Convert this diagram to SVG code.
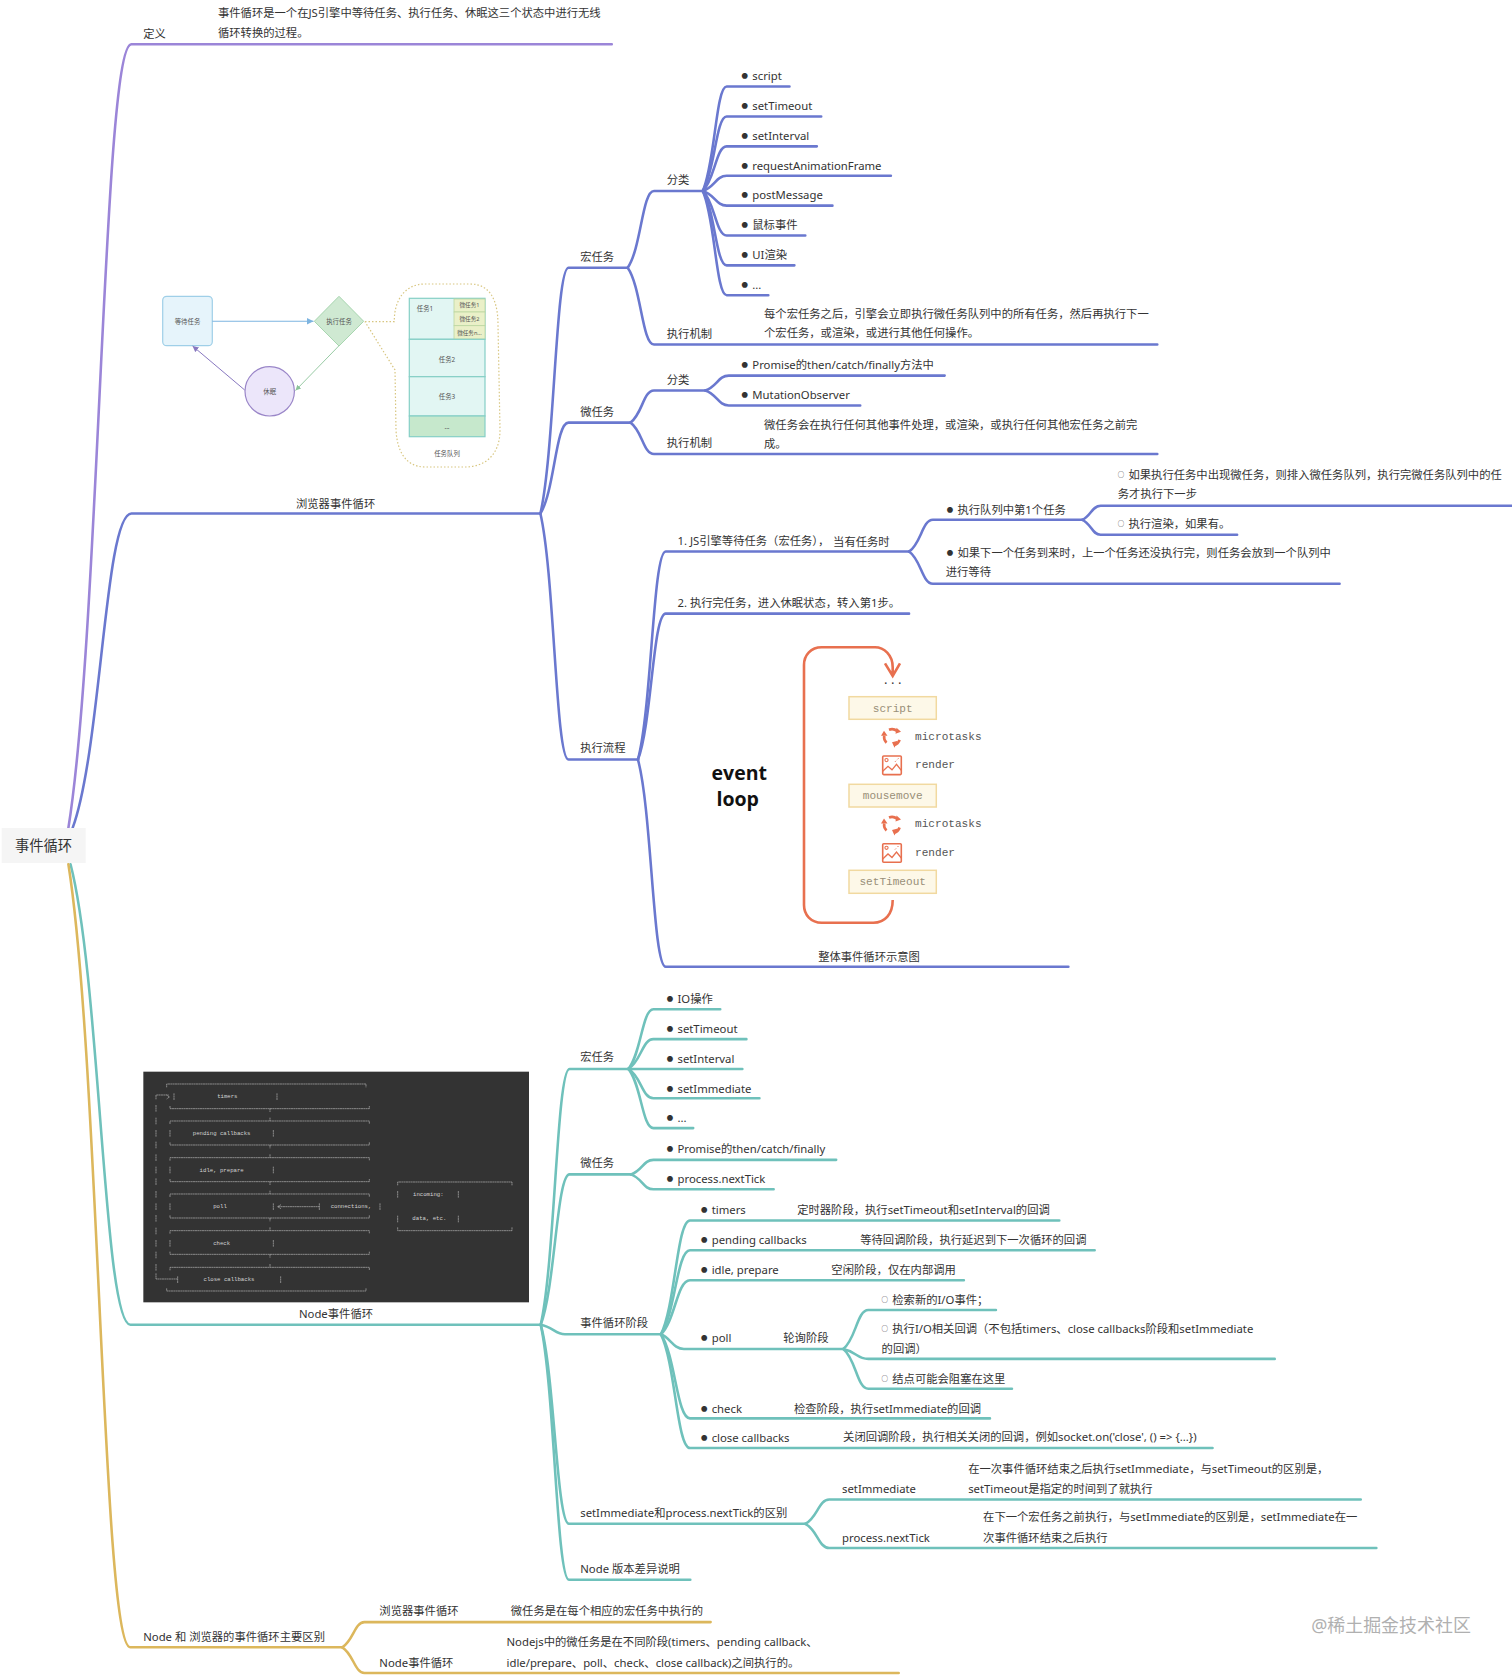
<svg xmlns="http://www.w3.org/2000/svg" width="1512" height="1675" viewBox="0 0 1512 1675">
<style>
text{font-family:"Noto Sans","Noto Sans CJK SC",sans-serif;fill:#333;dominant-baseline:central}
.t{font-size:10.6px}
.b{font-size:6px;font-family:"Noto Sans CJK SC",sans-serif}
.c{text-anchor:middle}
.con path{fill:none;stroke-width:2.4;stroke-linecap:round}
.pu path{stroke:#9b85d8}.bl path{stroke:#6a78cf}.te path{stroke:#6fc1bb}.go path{stroke:#dcb75c}
.s{font-size:6.4px;fill:#555;text-anchor:middle}
.cell{fill:#e2f6f3;stroke:#86cfc6;stroke-width:1.2}
.mic{fill:#eaf0c8;stroke:#bcd6a0;stroke-width:.8}
.mono{font-family:"Liberation Mono",monospace;font-size:11.1px}
.box{fill:#fdf8e8;stroke:#f1d9a0;stroke-width:1.5}
.bx{font-family:"Liberation Mono",monospace;font-size:11.1px;fill:#998f78;text-anchor:middle}
.lb{font-family:"Liberation Mono",monospace;font-size:11.1px;fill:#555}
.ev{font-family:"Open Sans",sans-serif;font-weight:700;font-size:19.5px;fill:#111;text-anchor:middle}
.asc{font-family:"Liberation Mono",monospace;font-size:17px;fill:#d4d4d4;text-anchor:middle}
.al path{fill:none;stroke:#c4c4c4;stroke-width:1.8;stroke-dasharray:6 1}
</style>
<defs>
<marker id="ab" markerWidth="7" markerHeight="7" refX="6" refY="3" orient="auto"><path d="M0,0L6,3L0,6Z" fill="#7db4e0"/></marker>
<marker id="ag" markerWidth="7" markerHeight="7" refX="6" refY="3" orient="auto"><path d="M0,0L6,3L0,6Z" fill="#8cc49a"/></marker>
<marker id="ap" markerWidth="7" markerHeight="7" refX="6" refY="3" orient="auto"><path d="M0,0L6,3L0,6Z" fill="#8878c0"/></marker>
<g id="cyc">
<path d="M-3,-7.5A8,8 0 0 1 5,-6.2M7.6,2.5A8,8 0 0 1 2,7.8M-5.5,5.5A8,8 0 0 1 -7.8,-1.5" fill="none" stroke="#e8704f" stroke-width="2.6"/>
<path d="M4.5,-9.5L9,-5.5L3.5,-3.5ZM5.8,3.5L0,5L2.5,10.5ZM-11,-1.5L-4.5,-1.5L-8,-6.5Z" fill="#e8704f"/>
</g>
<g id="pic" fill="none" stroke="#e8704f">
<rect x=".7" y=".7" width="18.6" height="18.6" rx="1" stroke-width="1.6"/>
<circle cx="4.5" cy="4.8" r="1.6" stroke-width="1.1"/>
<path d="M.7,16L6,11L10,14.5L14.5,9L19.3,15" stroke-width="1.3"/>
<path d="M13,6.5l1,-1M15.5,4l1,-1" stroke-width="1"/>
</g>
</defs>
<rect width="1512" height="1675" fill="#fff"/>

<g id="connectors" class="con" transform="scale(1.0686,1.0683)">
<g class="pu"><path d="M64,775C93.5,591 96.5,41.4 123,41.4H572.5"/></g>
<g class="bl">
<path d="M68,775C95,701 98,480.7 123,480.7H505.7"/>
<path d="M505.7,480.7C519,423 520,250.6 532,250.6H587.4"/>
<path d="M505.7,480.7C519,459.5 520,395.6 532,395.6H590"/>
<path d="M505.7,480.7C519,538 520,711 532,711H597"/>
<path d="M587.4,250.6C600,232.6 601,178.8 612,178.8H657.6"/>
<path d="M587.4,250.6C600,268.6 601,322.5 612,322.5H1083"/>
<path d="M657.6,178.8C669,154 670,81 680,81H738.8"/>
<path d="M657.6,178.8C669,161 670,109 680,109H768.5"/>
<path d="M657.6,178.8C669,168 670,137 680,137H764.4"/>
<path d="M657.6,178.8C669,175 670,164.6 680,164.6H833.7"/>
<path d="M657.6,178.8C669,182 670,192.5 680,192.5H779"/>
<path d="M657.6,178.8C669,189 670,220.4 680,220.4H753.6"/>
<path d="M657.6,178.8C669,196 670,248.4 680,248.4H743.4"/>
<path d="M657.6,178.8C669,203 670,276.3 680,276.3H719"/>
<path d="M590,395.6C601,388 602,365.5 612,365.5H660"/>
<path d="M590,395.6C601,403 602,425 612,425H1083"/>
<path d="M660,365.5C671,362 672,351.6 682,351.6H884"/>
<path d="M660,365.5C671,369 672,379.5 682,379.5H805"/>
<path d="M597,711C610,662 611,516.3 623,516.3H850.7"/>
<path d="M597,711C610,677 611,574.4 623,574.4H850.7"/>
<path d="M597,711C610,759 611,905 623,905H999.8"/>
<path d="M850.7,516.3C862,509 863,486.6 873,486.6H1012.8"/>
<path d="M850.7,516.3C862,524 863,546.5 873,546.5H1253.6"/>
<path d="M1012.8,486.6C1021,483 1022,473.4 1030,473.4H1415"/>
<path d="M1012.8,486.6C1021,490 1022,500.6 1030,500.6H1157.7"/>
</g>
<g class="te">
<path d="M66,809C94,917 97,1240 122,1240H506"/>
<path d="M506,1240C519.5,1180 521,1000.6 533,1000.6H588"/>
<path d="M506,1240C519.5,1205 521,1099.3 533,1099.3H590.5"/>
<path d="M506,1240C517,1242 520,1249 528.6,1249H618.5"/>
<path d="M506,1240C519,1286.6 521,1426.4 532.4,1426.4H753.6"/>
<path d="M506,1240C519,1300 521,1478.8 532.4,1478.8H646"/>
<path d="M588,1000.6C600,986.6 601,944.7 611.5,944.7H674"/>
<path d="M588,1000.6C600,993.6 601,972.7 611.5,972.7H698.5"/>
<path d="M588,1000.6H694.7"/>
<path d="M588,1000.6C600,1007.5 601,1028 611.5,1028H710.7"/>
<path d="M588,1000.6C600,1014.5 601,1056 611.5,1056H648.7"/>
<path d="M590.5,1099.3C601,1096 602,1085.7 611.5,1085.7H782.5"/>
<path d="M590.5,1099.3C601,1103 602,1113.3 611.5,1113.3H724"/>
<path d="M618.5,1249C632,1222 633.5,1142.4 645.7,1142.4H991.3"/>
<path d="M618.5,1249C632,1229 633.5,1170.4 645.7,1170.4H1024.4"/>
<path d="M618.5,1249C632,1236 633.5,1198.4 645.7,1198.4H902"/>
<path d="M618.5,1249C627,1252 630,1262.7 640,1262.7H789.2"/>
<path d="M618.5,1249C632,1269 633.5,1327.7 645.7,1327.7H926.4"/>
<path d="M618.5,1249C632,1276 633.5,1355.5 645.7,1355.5H1134.7"/>
<path d="M789.2,1262.7C801,1253.6 802,1226.3 812.6,1226.3H932"/>
<path d="M789.2,1262.7C801,1265 802,1272 812.6,1272H1192.9"/>
<path d="M789.2,1262.7C801,1272 802,1300 812.6,1300H947"/>
<path d="M753.6,1426.4C765,1420.7 766,1403.7 776,1403.7H1273.4"/>
<path d="M753.6,1426.4C765,1432 766,1449 776,1449H1288"/>
</g>
<g class="go">
<path d="M64,809C93,992 96,1542 122,1542H320.3"/>
<path d="M320.3,1542C330.5,1536 332,1518.4 341,1518.4H665"/>
<path d="M320.3,1542C330.5,1548 332,1566 341,1566H841"/>
</g>
</g>

<g id="root"><rect x="1.7" y="828" width="84" height="35" fill="#f5f5f5"/><text x="43.5" y="845.7" class="c" style="font-size:14.3px">事件循环</text></g>

<g id="mindmap" transform="scale(1.0686,1.0683)">
<g id="def" class="t"><text x="134" y="31">定义</text><text x="204" y="12">事件循环是一个在JS引擎中等待任务、执行任务、休眠这三个状态中进行无线</text><text x="204" y="30">循环转换的过程。</text></g>
<g id="browser" class="t"><text x="277" y="471">浏览器事件循环</text></g>
<g id="macro" class="t"><text x="543" y="240">宏任务</text><text x="624" y="168">分类</text></g>
<g id="macro-items" class="t">
<text x="694" y="70.4"><tspan class="b">●</tspan><tspan x="704">script</tspan></text>
<text x="694" y="98.3"><tspan class="b">●</tspan><tspan x="704">setTimeout</tspan></text>
<text x="694" y="126.3"><tspan class="b">●</tspan><tspan x="704">setInterval</tspan></text>
<text x="694" y="154"><tspan class="b">●</tspan><tspan x="704">requestAnimationFrame</tspan></text>
<text x="694" y="181.8"><tspan class="b">●</tspan><tspan x="704">postMessage</tspan></text>
<text x="694" y="209.7"><tspan class="b">●</tspan><tspan x="704">鼠标事件</tspan></text>
<text x="694" y="237.7"><tspan class="b">●</tspan><tspan x="704">UI渲染</tspan></text>
<text x="694" y="265.5"><tspan class="b">●</tspan><tspan x="704">...</tspan></text>
</g>
<g id="macro-exec" class="t"><text x="624" y="312">执行机制</text><text x="715" y="293">每个宏任务之后，引擎会立即执行微任务队列中的所有任务，然后再执行下一</text><text x="715" y="311">个宏任务，或渲染，或进行其他任何操作。</text></g>
<g id="micro" class="t"><text x="543" y="385">微任务</text><text x="624" y="355">分类</text>
<text x="694" y="341"><tspan class="b">●</tspan><tspan x="704">Promise的then/catch/finally方法中</tspan></text>
<text x="694" y="369"><tspan class="b">●</tspan><tspan x="704">MutationObserver</tspan></text>
</g>
<g id="micro-exec" class="t"><text x="624" y="414">执行机制</text><text x="715" y="397">微任务会在执行任何其他事件处理，或渲染，或执行任何其他宏任务之前完</text><text x="715" y="415">成。</text></g>
<g id="flow" class="t"><text x="543" y="700">执行流程</text></g>
<g id="step1" class="t"><text x="634" y="506">1. JS引擎等待任务（宏任务），<tspan dx="3.5">当有任务时</tspan></text>
<text x="886" y="476"><tspan class="b">●</tspan><tspan x="896">执行队列中第1个任务</tspan></text>
<text x="1046" y="444"><tspan class="b">○</tspan><tspan x="1056">如果执行任务中出现微任务，则排入微任务队列，执行完微任务队列中的任</tspan></text>
<text x="1046" y="462">务才执行下一步</text>
<text x="1046" y="490"><tspan class="b">○</tspan><tspan x="1056">执行渲染，如果有。</tspan></text>
<text x="886" y="517"><tspan class="b">●</tspan><tspan x="896">如果下一个任务到来时，上一个任务还没执行完，则任务会放到一个队列中</tspan></text>
<text x="885" y="535">进行等待</text>
</g>
<g id="step2" class="t"><text x="634" y="564">2. 执行完任务，进入休眠状态，转入第1步。</text></g>

<g id="node-macro" class="t"><text x="543" y="989">宏任务</text>
<text x="624" y="934"><tspan class="b">●</tspan><tspan x="634">IO操作</tspan></text>
<text x="624" y="962"><tspan class="b">●</tspan><tspan x="634">setTimeout</tspan></text>
<text x="624" y="990"><tspan class="b">●</tspan><tspan x="634">setInterval</tspan></text>
<text x="624" y="1018"><tspan class="b">●</tspan><tspan x="634">setImmediate</tspan></text>
<text x="624" y="1046"><tspan class="b">●</tspan><tspan x="634">...</tspan></text>
</g>
<g id="node-micro" class="t"><text x="543" y="1088">微任务</text>
<text x="624" y="1075"><tspan class="b">●</tspan><tspan x="634">Promise的then/catch/finally</tspan></text>
<text x="624" y="1103"><tspan class="b">●</tspan><tspan x="634">process.nextTick</tspan></text>
</g>
<g id="node-phase" class="t"><text x="543" y="1238">事件循环阶段</text>
<text x="656" y="1132"><tspan class="b">●</tspan><tspan x="666">timers</tspan></text><text x="746" y="1132">定时器阶段，执行setTimeout和setInterval的回调</text>
<text x="656" y="1160"><tspan class="b">●</tspan><tspan x="666">pending callbacks</tspan></text><text x="805" y="1160">等待回调阶段，执行延迟到下一次循环的回调</text>
<text x="656" y="1188"><tspan class="b">●</tspan><tspan x="666">idle, prepare</tspan></text><text x="778" y="1188">空闲阶段，仅在内部调用</text>
<text x="656" y="1252"><tspan class="b">●</tspan><tspan x="666">poll</tspan></text><text x="733" y="1252">轮询阶段</text>
<text x="825" y="1216"><tspan class="b">○</tspan><tspan x="835">检索新的I/O事件；</tspan></text>
<text x="825" y="1243"><tspan class="b">○</tspan><tspan x="835">执行I/O相关回调（不包括timers、close callbacks阶段和setImmediate</tspan></text>
<text x="825" y="1262">的回调）</text>
<text x="825" y="1290"><tspan class="b">○</tspan><tspan x="835">结点可能会阻塞在这里</tspan></text>
<text x="656" y="1318"><tspan class="b">●</tspan><tspan x="666">check</tspan></text><text x="743" y="1318">检查阶段，执行setImmediate的回调</text>
<text x="656" y="1345"><tspan class="b">●</tspan><tspan x="666">close callbacks</tspan></text><text x="789" y="1345">关闭回调阶段，执行相关关闭的回调，例如socket.on('close', () =&gt; {...})</text>
</g>
<g id="node-diff" class="t"><text x="543" y="1416">setImmediate和process.nextTick的区别</text>
<text x="788" y="1393">setImmediate</text><text x="906" y="1375">在一次事件循环结束之后执行setImmediate，与setTimeout的区别是，</text><text x="906" y="1393">setTimeout是指定的时间到了就执行</text>
<text x="788" y="1439">process.nextTick</text><text x="920" y="1420">在下一个宏任务之前执行，与setImmediate的区别是，setImmediate在一</text><text x="920" y="1439">次事件循环结束之后执行</text>
</g>
<g id="node-version" class="t"><text x="543" y="1468">Node 版本差异说明</text></g>
<g id="compare" class="t"><text x="134" y="1532">Node 和 浏览器的事件循环主要区别</text>
<text x="355" y="1508">浏览器事件循环</text><text x="478" y="1508">微任务是在每个相应的宏任务中执行的</text>
<text x="355" y="1556">Node事件循环</text><text x="474" y="1537">Nodejs中的微任务是在不同阶段(timers、pending callback、</text><text x="474" y="1556">idle/prepare、poll、check、close callback)之间执行的。</text>
</g>
<text id="watermark" x="1227" y="1521" style="font-size:16.8px;fill:#b0b0b0">@稀土掘金技术社区</text>
</g>

<g id="browser-diagram">
<g id="wait"><rect x="162.7" y="296.3" width="49.6" height="49.4" rx="4" fill="#e6f4fb" stroke="#9fcfe8" stroke-width="1.2"/><text x="187.5" y="321.3" class="s">等待任务</text></g>
<g id="run"><path d="M339,296.3L363.7,321.3L339,346L314.3,321.3Z" fill="#cfe9d2" stroke="#a8d6b0"/><text x="339" y="321.3" class="s">执行任务</text></g>
<g id="sleep"><circle cx="269.7" cy="391.3" r="24.7" fill="#ece6fa" stroke="#9a86c8" stroke-width="1.2"/><text x="269.7" y="391.3" class="s">休眠</text></g>
<g id="diagram-links" fill="none">
<path d="M212.3,321.3H313.5" stroke="#7db4e0" stroke-width="1.1" marker-end="url(#ab)"/>
<path d="M339,345.7L295.5,390.5" stroke="#8cc49a" stroke-width=".9" marker-end="url(#ag)"/>
<path d="M244.7,390L192.6,346" stroke="#8878c0" stroke-width="1" marker-end="url(#ap)"/>
<path d="M365,321.7H394.3C394,300 405,284 425,284H470C490,284 498,300 498,325L500,430C500,455 485,467 465,467H425C405,467 397,450 396,430L395,370L365,321.7" stroke="#d8c680" stroke-width="1.2" stroke-dasharray="1.5 2"/>
</g>
<g id="queue">
<rect class="cell" x="409.3" y="298.3" width="75.7" height="41"/>
<rect class="mic" x="454" y="299" width="31" height="13"/><rect class="mic" x="454" y="312" width="31" height="13.7"/><rect class="mic" x="454" y="325.7" width="31" height="13.3"/>
<rect class="cell" x="409.3" y="339.3" width="75.7" height="37.4"/>
<rect class="cell" x="409.3" y="376.7" width="75.7" height="39.3"/>
<rect x="409.3" y="416" width="75.7" height="20.7" fill="#c6e8cc" stroke="#86cfc6" stroke-width="1.2"/>
<text x="425" y="308.7" class="s">任务1</text>
<text x="469.5" y="305" class="s" style="font-size:5.6px">微任务1</text><text x="469.5" y="319" class="s" style="font-size:5.6px">微任务2</text><text x="469.5" y="333" class="s" style="font-size:5.6px">微任务n...</text>
<text x="447" y="359.3" class="s">任务2</text><text x="447" y="396.3" class="s">任务3</text><text x="447" y="426" class="s">...</text><text x="447" y="453.3" class="s">任务队列</text>
</g>
</g>

<g id="event-loop">
<text class="ev" x="739.3" y="772">event</text><text class="ev" x="737.7" y="798">loop</text>
<path d="M892.7,675V667.3C892.7,655 884,647.3 875,647.3H821.7C811,647.3 804,655 804,665V905C804,915 811,922.7 821.7,922.7H873.3C885,922.7 892.7,914 892.7,900M885,663.3L892.7,676L900,663.3" fill="none" stroke="#e8704f" stroke-width="2.6"/>
<text class="mono c" x="892.7" y="681" style="font-size:11.7px">...</text>
<g id="el-script"><rect class="box" x="849" y="696.7" width="87.3" height="22.6"/><text class="bx" x="892.7" y="708.5">script</text></g>
<use href="#cyc" x="892" y="737.3"/><text class="lb" x="915" y="736.7">microtasks</text>
<use href="#pic" x="882" y="755.3"/><text class="lb" x="915" y="765.3">render</text>
<g id="el-mousemove"><rect class="box" x="849" y="784.3" width="87.3" height="22.7"/><text class="bx" x="892.7" y="796">mousemove</text></g>
<use href="#cyc" x="892" y="825"/><text class="lb" x="915" y="824.3">microtasks</text>
<use href="#pic" x="882" y="843"/><text class="lb" x="915" y="853.3">render</text>
<g id="el-settimeout"><rect class="box" x="849" y="870.3" width="87.3" height="23"/><text class="bx" x="892.7" y="882">setTimeout</text></g>
<text x="869" y="956.5" class="c" style="font-size:11.3px">整体事件循环示意图</text>
</g>

<g id="node-diagram" transform="translate(130,1060) scale(.33333)">
<rect x="40" y="35" width="1157" height="692" fill="#333"/>
<g class="al">
<path d="M110,82V72H708V82"/>
<path d="M78,118V105H116"/><path d="M118,111l-8,-6M118,111l-8,6" stroke-dasharray="none"/>
<path d="M132,100V120M441,100V120"/>
<path d="M120,138V146H718V138M420,146V156"/>
<path d="M120,192V183H718V192M420,173V183"/>
<path d="M120,210V230M430,210V230"/>
<path d="M120,247V255H718V247M420,255V265"/>
<path d="M120,302V293H718V302M420,283V293"/>
<path d="M120,320V340M430,320V340"/>
<path d="M120,357V365H718V357M420,365V375"/>
<path d="M120,411V402H718V411M420,392V402"/>
<path d="M120,430V450M430,430V450"/>
<path d="M445,440H568M568,430V450M750,430V450"/><path d="M443,440l10,-6M443,440l10,6" stroke-dasharray="none"/>
<path d="M120,466V474H718V466M420,474V484"/>
<path d="M120,521V512H718V521M420,502V512"/>
<path d="M120,540V560M430,540V560"/>
<path d="M120,575V583H718V575M420,583V593"/>
<path d="M120,631V622H718V631M420,612V622"/>
<path d="M143,649V669M452,649V669"/>
<path d="M78,640V657H143"/>
<path d="M110,685V693H708V685"/>
<path d="M78,135V155M78,173V193M78,210V230M78,245V265M78,283V303M78,320V340M78,355V375M78,393V413M78,430V450M78,465V485M78,503V523M78,540V560M78,575V595M78,612V632"/>
<path d="M803,376V366H1146V376M803,393V413M985,393V413M803,467V487M985,467V487M803,502V512H1146V502"/>
</g>
<text class="asc" x="292" y="111">timers</text>
<text class="asc" x="275" y="221">pending callbacks</text>
<text class="asc" x="275" y="331">idle, prepare</text>
<text class="asc" x="270" y="440">poll</text>
<text class="asc" x="663" y="440">connections,</text>
<text class="asc" x="895" y="403">incoming:</text>
<text class="asc" x="898" y="477">data, etc.</text>
<text class="asc" x="275" y="550">check</text>
<text class="asc" x="297" y="659">close callbacks</text>
<text x="618" y="762" class="c" style="font-size:34px">Node事件循环</text>
</g>
</svg>
